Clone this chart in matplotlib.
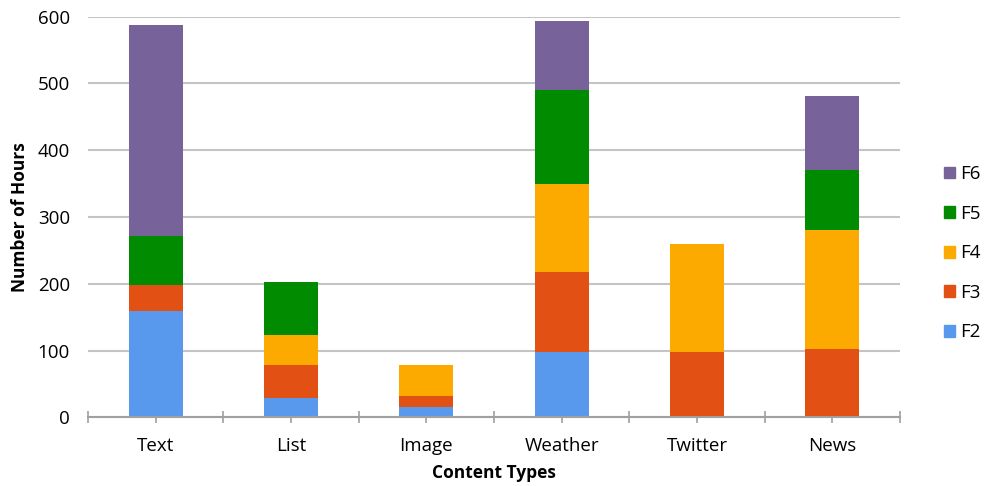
import numpy as np
import matplotlib.pyplot as plt
from matplotlib.patches import Patch

categories = ["Text", "List", "Image", "Weather", "Twitter", "News"]
series_names = ["F2", "F3", "F4", "F5", "F6"]
f2 = [159, 29, 15, 98, 0, 0]
f3 = [39, 50, 17, 120, 98, 103]
f4 = [0, 45, 47, 131, 162, 177]
f5 = [73, 79, 0, 141, 0, 91]
f6 = [316, 0, 0, 103, 0, 110]
colors = ["#5899ee", "#e25014", "#fdaa00", "#008b00", "#77639a"]

plt.rcParams['font.family'] = ['Open Sans', 'DejaVu Sans']

fig = plt.figure(figsize=(9.86, 4.86), dpi=100)
ax = fig.add_axes([0.0892, 0.1413, 0.8236, 0.8243])

x = np.arange(len(categories))
bottom = np.zeros(len(categories))
for name, vals, col in zip(series_names, [f2, f3, f4, f5, f6], colors):
    ax.bar(x, vals, width=0.4, bottom=bottom, color=col, label=name, zorder=3)
    bottom += np.array(vals)

ax.set_xlim(-0.5, len(categories) - 0.5)
ax.set_ylim(0, 600)
ax.set_yticks(range(0, 601, 100))
ax.yaxis.grid(True, color="#c4c4c4", lw=1.5, zorder=0)
ax.tick_params(axis="y", length=0, labelsize=13.5, pad=13)

ax.set_xticks(x)
ax.set_xticklabels(categories)
ax.set_xticks(np.arange(-0.5, len(categories)), minor=True)
ax.tick_params(axis="x", which="major", length=4, color="#a0a0a0", width=1.2,
               labelsize=13.5, pad=10)
ax.tick_params(axis="x", which="minor", length=8, direction="inout",
               color="#a0a0a0", width=1.2)

for s in ["top", "right", "left"]:
    ax.spines[s].set_visible(False)
ax.spines["bottom"].set_color("#a0a0a0")
ax.spines["bottom"].set_linewidth(1.5)
ax.spines["bottom"].set_zorder(4)

ax.set_ylabel("Number of Hours", fontsize=12.5, fontweight="bold", labelpad=6)
ax.set_xlabel("Content Types", fontsize=12.5, fontweight="bold", labelpad=7)

handles = [Patch(color=c, label=n) for n, c in zip(series_names, colors)][::-1]
fig.legend(handles=handles, loc="center left", bbox_to_anchor=(0.94, 0.479),
           frameon=False, fontsize=13.5, labelspacing=1.15,
           handlelength=0.6, handleheight=0.6, handletextpad=0.3)

fig.savefig("out.png", dpi=100)
